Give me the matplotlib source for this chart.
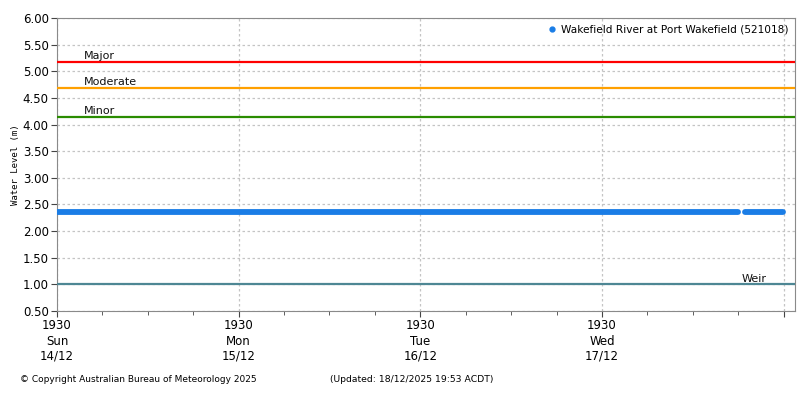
"""BOM-style water level chart: Wakefield River at Port Wakefield."""
from datetime import datetime, timedelta
import matplotlib
matplotlib.use("Agg")
import matplotlib.pyplot as plt

# observed water level (m) - flat, with a short gap near the end
obs_time = [datetime(2025, 12, 14, 19, 30), datetime(2025, 12, 18, 13, 30),
            None,
            datetime(2025, 12, 18, 14, 20), datetime(2025, 12, 18, 19, 25)]
obs_level = [2.35, 2.35, None, 2.35, 2.35]

levels = ["Major", "Moderate", "Minor", "Weir"]
level_vals = [5.18, 4.69, 4.15, 1.00]
level_cols = ["#ff0000", "#ffa000", "#2a8c00", "#4e8794"]

tick_days = [datetime(2025, 12, d, 19, 30) for d in (14, 15, 16, 17, 18)]
tick_labels = ["1930\nSun\n14/12", "1930\nMon\n15/12", "1930\nTue\n16/12",
               "1930\nWed\n17/12", ""]
yticks = [0.5, 1.0, 1.5, 2.0, 2.5, 3.0, 3.5, 4.0, 4.5, 5.0, 5.5, 6.0]

C_LINE = "#1a7de6"
GRID = "#c4c4c4"

fig = plt.figure(figsize=(8, 4), dpi=100)
ax = fig.add_axes([57/800, 1-311/400, (795-57)/800, (311-18)/400])

for name, v, c in zip(levels, level_vals, level_cols):
    ax.axhline(v, color=c, lw=1.6, zorder=3)
    xpos = 0.927 if name == "Weir" else 0.036
    ax.text(xpos, v + 0.01, name, transform=ax.get_yaxis_transform(),
            fontsize=8, color="#111", va="bottom", ha="left", zorder=4)

# segments split at the gap
seg_t, seg_v = [], []
for t, v in zip(obs_time, obs_level):
    if t is None:
        ax.plot(seg_t, seg_v, color=C_LINE, lw=4.2, solid_capstyle="round", zorder=5)
        seg_t, seg_v = [], []
    else:
        seg_t.append(t); seg_v.append(v)
ax.plot(seg_t, seg_v, color=C_LINE, lw=4.2, solid_capstyle="round", zorder=5)

ax.plot([], [], "o", color=C_LINE, ms=3.5, label="Wakefield River at Port Wakefield (521018)")
ax.legend(loc="upper right", frameon=False, fontsize=7.6, handletextpad=0.3,
          handlelength=1.0, borderaxespad=0.25)

ax.set_xlim(tick_days[0], tick_days[-1] + timedelta(hours=1.5))
ax.set_ylim(0.5, 6.0)
ax.set_yticks(yticks)
ax.set_yticklabels([f"{v:.2f}" for v in yticks])
ax.set_xticks(tick_days)
ax.set_xticklabels(tick_labels)
minors = [tick_days[0] + timedelta(hours=6*i) for i in range(17)]
ax.set_xticks(minors, minor=True)

ax.tick_params(axis="both", which="major", labelsize=8.5, length=4, color="#444",
               direction="out", pad=2)
ax.tick_params(axis="x", which="minor", length=3, color="#444")
for lab in ax.get_xticklabels():
    lab.set_linespacing(1.22)

ax.grid(True, which="major", color=GRID, ls=(0, (2, 2)), lw=0.9)
for s in ax.spines.values():
    s.set_color("#8a8a8a")

ax.set_ylabel("Water Level (m)", family="DejaVu Sans Mono", fontsize=6.5, labelpad=2)

fig.text(20/800, 1-380/400, "\u00a9 Copyright Australian Bureau of Meteorology 2025",
         fontsize=6.5, va="center")
fig.text(330/800, 1-380/400, "(Updated: 18/12/2025 19:53 ACDT)", fontsize=6.7, va="center")

fig.savefig("out.png", dpi=100)
